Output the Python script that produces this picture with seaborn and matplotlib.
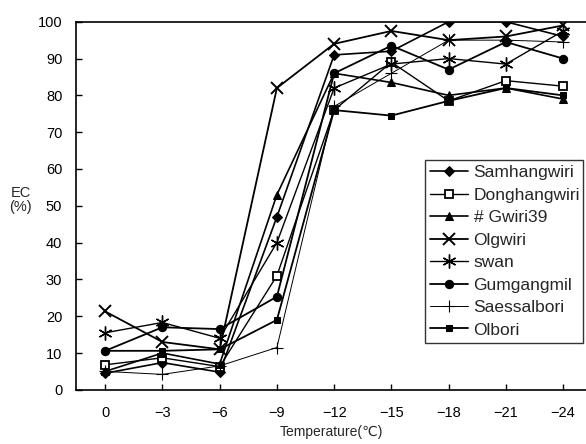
import numpy as np
import matplotlib
matplotlib.use("Agg")
import matplotlib.pyplot as plt
import seaborn as sns

# temperatures (deg C) and EC (%) per cultivar
temps = [0, -3, -6, -9, -12, -15, -18, -21, -24]
samhangwiri = [4.5, 7.4, 4.8, 47, 91, 92, 100, 100, 96]
donghangwiri = [6.8, 8.7, 6.3, 31, 76, 89, 78.5, 84, 82.5]
gwiri39 = [5, 10, 7, 53, 86, 83.5, 80, 82, 79]
olgwiri = [21.3, 13, 11, 82, 94, 97.5, 95, 96, 99]
swan = [15.5, 18.3, 14, 40, 82, 88.5, 90, 88.5, 97.5]
gumgangmil = [10.6, 17, 16.5, 25.3, 86, 93.5, 87, 94.5, 90]
saessalbori = [5, 4.2, 6.5, 11.5, 77, 86, 95, 95, 94.5]
olbori = [10.6, 10.6, 11, 19, 76, 74.5, 78.5, 82, 80]

names = ["Samhangwiri", "Donghangwiri", "# Gwiri39", "Olgwiri", "swan",
         "Gumgangmil", "Saessalbori", "Olbori"]
series = [samhangwiri, donghangwiri, gwiri39, olgwiri, swan,
          gumgangmil, saessalbori, olbori]

styles = [
    dict(marker="D", markersize=5, markerfacecolor="black", lw=1.2),
    dict(marker="s", markersize=6, markerfacecolor="white", markeredgewidth=1.3, lw=1.0),
    dict(marker="^", markersize=6, markerfacecolor="black", lw=1.2),
    dict(marker="x", markersize=9, markeredgewidth=1.4, lw=1.3),
    dict(marker=(6, 2, 0), markersize=10, markeredgewidth=1.0, lw=1.0),
    dict(marker="o", markersize=6, markerfacecolor="black", lw=1.3),
    dict(marker="+", markersize=8, markeredgewidth=0.8, lw=0.7),
    dict(marker="s", markersize=4, markerfacecolor="black", lw=1.3),
]

sns.set_style("ticks")
plt.rcParams["font.family"] = ["Liberation Sans", "DejaVu Sans"]

fig = plt.figure(figsize=(5.86, 4.44), dpi=100)
ax = fig.add_axes([0.13, 0.122, 0.87, 0.829])

for name, vals, st in zip(names, series, styles):
    sns.lineplot(x=temps, y=vals, ax=ax, color="black", label=name,
                 markeredgecolor="black", **st)

ax.set_xlim(1.52, -25.2)
ax.set_ylim(0, 100)
ax.set_xticks(temps)
ax.set_xticklabels(["0"] + ["\u2212" + str(-t) for t in temps[1:]])
ax.set_yticks(range(0, 101, 10))
ax.tick_params(direction="in", length=4, width=1, labelsize=10.5, colors="black")
ax.tick_params(axis="x", pad=12)
ax.tick_params(axis="y", pad=10)
for side in ["top", "left", "bottom"]:
    ax.spines[side].set_visible(True)
    ax.spines[side].set_linewidth(1.2)
    ax.spines[side].set_color("black")
ax.spines["right"].set_visible(False)

ax.set_xlabel("Temperature(\u2103)", fontsize=10, labelpad=3)
ax.set_ylabel("")
fig.text(0.035, 0.55, "EC\n(%)", ha="center", va="center", fontsize=10.5, linespacing=1.0)

leg = ax.legend(loc="lower left", bbox_to_anchor=(0.684, 0.128, 0.31, 0.538),
                mode="expand", frameon=True, fancybox=False, fontsize=12.5,
                handlelength=2.2, handletextpad=0.3, labelspacing=0.42,
                borderpad=0.3, borderaxespad=0)
leg.get_frame().set_edgecolor("black")
leg.get_frame().set_linewidth(1.0)

fig.savefig("out.png", dpi=100)
